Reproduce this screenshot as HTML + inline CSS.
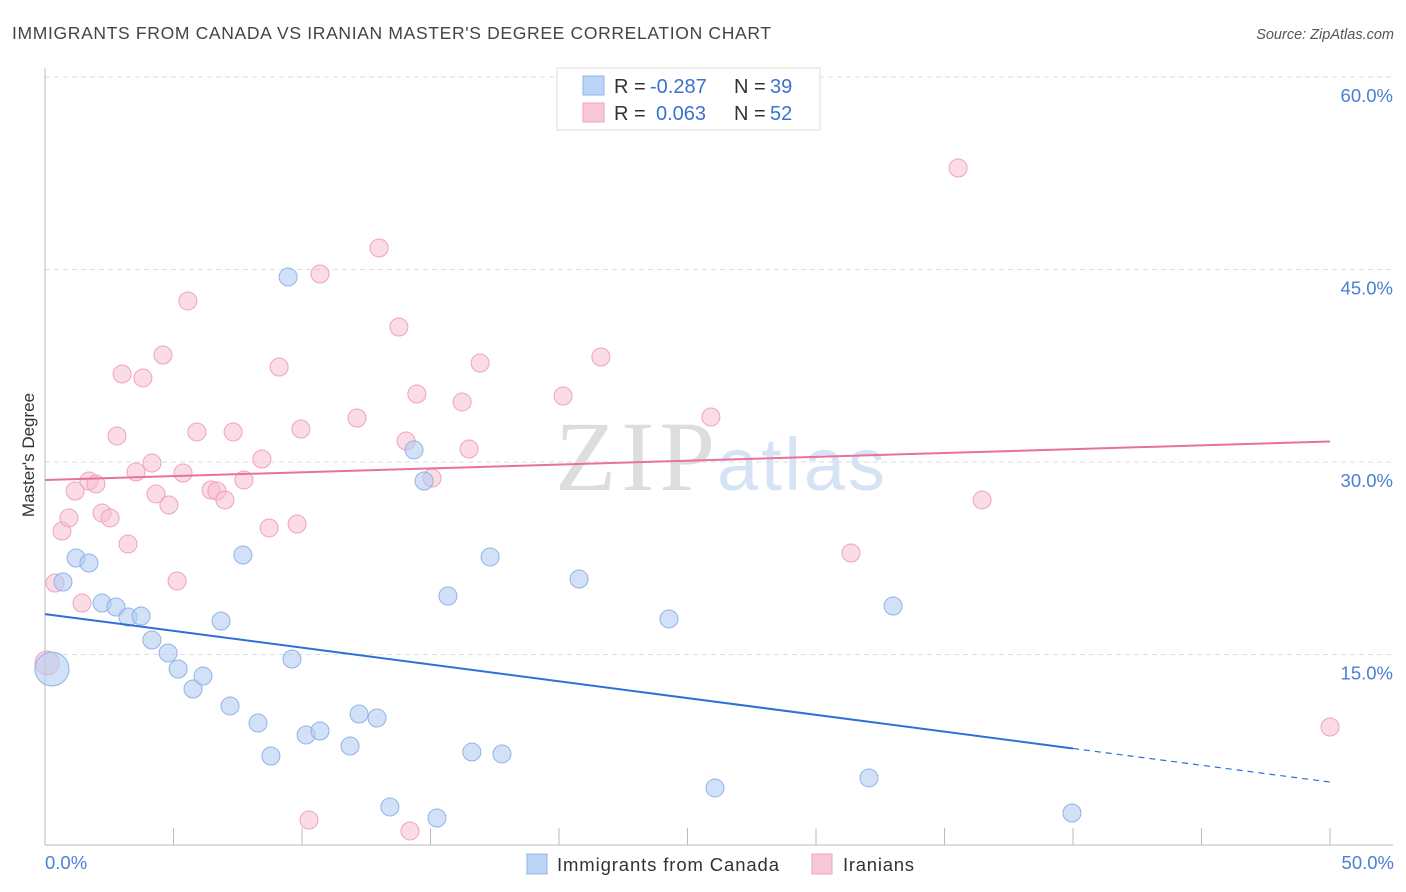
<!DOCTYPE html>
<html><head><meta charset="utf-8"><style>
body{margin:0;background:#fff;font-family:"Liberation Sans",sans-serif;}
svg{display:block}
</style></head><body>
<svg id="c" width="1406" height="892" xmlns="http://www.w3.org/2000/svg">
<text x="12" y="39" font-size="17.5" fill="#444" textLength="759">IMMIGRANTS FROM CANADA VS IRANIAN MASTER'S DEGREE CORRELATION CHART</text>
<text x="1394" y="39" font-size="14.5" fill="#555" font-style="italic" text-anchor="end">Source: ZipAtlas.com</text>
<text x="555" y="490" font-size="100" fill="#ddd" textLength="160" font-family="Liberation Serif">ZIP</text>
<text x="717" y="490" font-size="74" fill="#d6e3f5" textLength="168">atlas</text>
<g id="grid"></g>
<g id="pts"></g>
<g id="lines"></g>
<text transform="translate(34,455) rotate(-90)" font-size="17" fill="#333" text-anchor="middle">Master's Degree</text>
<text x="45" y="869" font-size="18.5" fill="#4a7fd4">0.0%</text>
<text x="1394" y="869" font-size="18.5" fill="#4a7fd4" text-anchor="end">50.0%</text>
<g>
<rect x="557" y="68" width="263" height="62" fill="#fff" stroke="#ddd"/>
<rect x="583" y="76" width="21" height="19" fill="#bcd4f5" stroke="#8fb3e8"/>
<rect x="583" y="103" width="21" height="19" fill="#f9c8d6" stroke="#eea4bb"/>
<text x="614" y="93" font-size="20" fill="#333">R = <tspan fill="#3a72d0" x="650">-0.287</tspan><tspan x="734">N = </tspan><tspan fill="#3a72d0" x="770">39</tspan></text>
<text x="614" y="120" font-size="20" fill="#333">R = <tspan fill="#3a72d0" x="656">0.063</tspan><tspan x="734">N = </tspan><tspan fill="#3a72d0" x="770">52</tspan></text>
</g>
<g>
<rect x="527" y="854" width="20" height="20" fill="#bcd4f5" stroke="#8fb3e8"/>
<text x="557" y="871" font-size="18.5" fill="#333" textLength="222">Immigrants from Canada</text>
<rect x="812" y="854" width="20" height="20" fill="#f9c8d6" stroke="#eea4bb"/>
<text x="843" y="871" font-size="18.5" fill="#333" textLength="71">Iranians</text>
</g>
</svg>
<script>
const yTicks=[15,30,45,60];
const xTicks=[0,5,10,15,20,25,30,35,40,45,50];
const blueX=[0.70,1.21,1.71,2.22,2.76,3.23,3.74,4.16,4.79,5.18,5.76,6.15,6.85,7.20,7.70,8.29,8.79,9.46,9.61,10.16,10.70,11.87,12.22,12.92,13.42,14.36,14.75,15.25,15.68,16.61,17.32,17.78,20.78,24.28,26.07,32.06,33.00,39.96,0.27];
const blueY=[20.65,22.52,22.13,19.01,18.70,17.92,18.00,16.13,15.12,13.87,12.31,13.32,17.61,10.99,22.75,9.66,7.09,44.42,14.65,8.73,9.04,7.87,10.36,10.05,3.12,30.94,28.52,2.26,19.56,7.40,22.60,7.25,20.88,17.77,4.60,5.38,18.78,2.65,13.87];
const blueR=[9,9,9,9,9,9,9,9,9,9,9,9,9,9,9,9,9,9,9,9,9,9,9,9,9,9,9,9,9,9,9,9,9,9,9,9,9,9,17];
const pinkX=[0.39,0.66,0.93,1.17,1.44,1.71,1.98,2.22,2.53,2.80,3.00,3.23,3.54,3.81,4.16,4.32,4.59,4.82,5.14,5.37,5.56,5.91,6.46,6.69,7.00,7.32,7.74,8.44,8.72,9.11,9.81,9.96,10.27,10.70,12.14,13.00,13.77,14.05,14.20,14.47,15.06,16.23,16.50,16.93,20.16,21.63,25.91,31.36,35.53,36.46,50.0,0.08];
const pinkY=[20.57,24.62,25.64,27.74,19.01,28.52,28.29,26.03,25.64,32.03,36.86,23.61,29.22,36.55,29.92,27.51,38.34,26.65,20.73,29.14,42.55,32.34,27.82,27.74,27.04,32.34,28.60,30.23,24.86,37.40,25.17,32.57,2.10,44.65,33.43,46.68,40.52,31.64,1.25,35.30,28.75,34.68,31.01,37.71,35.14,38.18,33.51,22.91,52.91,27.04,9.35,14.34];
const pinkR=pinkX.map((v,i)=>i===pinkX.length-1?12:9);
const blueTrend=[18.15,5.06];
const pinkTrend=[28.6,31.6];
const blueSolidEnd=40;
const NS="http://www.w3.org/2000/svg";
const sx=v=>45+v/50*1285;
const sy=v=>847-v/15*192.5;
function mk(t,a,p){const e=document.createElementNS(NS,t);for(const k in a)e.setAttribute(k,a[k]);p.appendChild(e);return e;}
const grid=document.getElementById('grid');
yTicks.forEach(t=>{
 const l=mk('line',{x1:45,x2:1393,y1:sy(t),y2:sy(t),stroke:'#ddd','stroke-dasharray':'5,4'},grid);
 
 
 const tx=mk('text',{x:1393,y:sy(t)+25,'font-size':18.5,fill:'#4a7fd4','text-anchor':'end'},grid);
 tx.textContent=t.toFixed(1)+'%';
 
 
});
const ax=mk('line',{x1:45,x2:1393,y1:845,y2:845,stroke:'#bbb'},grid);


const ay=mk('line',{x1:45,x2:45,y1:68,y2:845,stroke:'#bbb'},grid);


xTicks.forEach(t=>{
 const l=mk('line',{x1:sx(t),x2:sx(t),y1:828,y2:845,stroke:'#bbb'},grid);
 
 
});
const pts=document.getElementById('pts');
pinkX.forEach((x,i)=>{
 const c=mk('circle',{cx:sx(x),cy:sy(pinkY[i]),r:pinkR[i],fill:'rgba(248,190,208,0.55)',stroke:'#eea4bb','stroke-width':1},pts);
 
 
});
blueX.forEach((x,i)=>{
 const c=mk('circle',{cx:sx(x),cy:sy(blueY[i]),r:blueR[i],fill:'rgba(180,205,242,0.6)',stroke:'#8fb3e8','stroke-width':1},pts);
 
 
});
const lines=document.getElementById('lines');
const by=x=>blueTrend[0]+(blueTrend[1]-blueTrend[0])*x/50;
const b1=mk('line',{x1:sx(0),y1:sy(by(0)),x2:sx(blueSolidEnd),y2:sy(by(blueSolidEnd)),stroke:'#2f6fd6','stroke-width':2},lines);


const b2=mk('line',{x1:sx(blueSolidEnd),y1:sy(by(blueSolidEnd)),x2:sx(50),y2:sy(by(50)),stroke:'#2f6fd6','stroke-width':1.2,'stroke-dasharray':'6,5'},lines);


const p1=mk('line',{x1:sx(0),y1:sy(pinkTrend[0]),x2:sx(50),y2:sy(pinkTrend[1]),stroke:'#e8729a','stroke-width':2},lines);


</script>
</body></html>
